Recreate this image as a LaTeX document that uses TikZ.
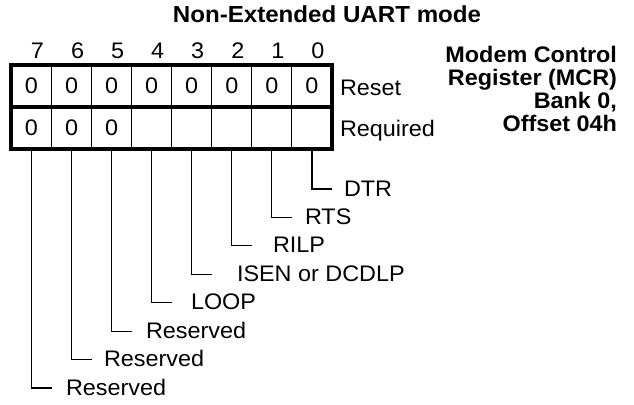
\documentclass[tikz,border=0pt]{standalone}
\usepackage{fontspec}
\setmainfont{Liberation Sans}[FakeStretch=1.04]
\begin{document}
\begin{tikzpicture}[x=1pt,y=-1pt,
  every node/.style={font=\fontsize{22.5}{24}\selectfont, inner sep=0pt, outer sep=0pt},
  cell/.style={draw, line width=1.2pt, minimum width=40.06pt, minimum height=42pt, anchor=center},
  frame/.style={line width=4pt},
  leader/.style={line width=1.2pt},
  lbl/.style={anchor=base west},
  bold/.style={font=\bfseries\fontsize{22.5}{24}\selectfont}]
\useasboundingbox (0,0) rectangle (634,404);
% title
\node[bold, anchor=base, font=\bfseries\fontsize{23.2}{24}\selectfont] (title) at (327,22.5) {Non-Extended UART mode};
% cells and bit numbers
\foreach \b [count=\i from 0] in {7,6,5,4,3,2,1,0}{
  \node[cell] (a\b) at ({31.5+\i*40.06},86) {0};
  \node[anchor=base] (n\b) at ({37.5+\i*40.06},59) {\b};
}
\foreach \b [count=\i from 0] in {7,6,5}{
  \node[cell] (b\b) at ({31.5+\i*40.06},128) {0};
}
\foreach \b [count=\i from 3] in {4,3,2,1,0}{
  \node[cell] (b\b) at ({31.5+\i*40.06},128) {};
}
\draw[frame] (a7.north west) rectangle (b0.south east);
\draw[frame] (a7.south west) -- (a0.south east);
% row labels
\node[lbl] (reset) at (340,95) {Reset};
\node[lbl] (req) at (340,136.5) {Required};
% register name
\node[bold, anchor=base east] (r1) at (617,63) {Modem Control};
\node[bold, anchor=base east] (r2) at (617,85.7) {Register (MCR)};
\node[bold, anchor=base east] (r3) at (617,108.4) {Bank 0,};
\node[bold, anchor=base east] (r4) at (617,131.1) {Offset 04h};
% leader labels
\node[lbl] (l0) at (344,196) {DTR};
\node[lbl] (l1) at (305,224.4) {RTS};
\node[lbl] (l2) at (273,252.9) {RILP};
\node[lbl] (l3) at (237,281.3) {ISEN or DCDLP};
\node[lbl] (l4) at (191,309.7) {LOOP};
\node[lbl] (l5) at (146,338.2) {Reserved};
\node[lbl] (l6) at (104,366.6) {Reserved};
\node[lbl] (l7) at (66,395) {Reserved};
% leader end points and lines
\foreach \b [count=\i from 0] in {7,6,5,4,3,2,1,0}{
  \coordinate (e\b) at ({51.5+\i*40.06},{189+(7-\i)*28.43});
  \draw[leader] (b\b.south) |- (e\b);
}
\end{tikzpicture}
\end{document}
